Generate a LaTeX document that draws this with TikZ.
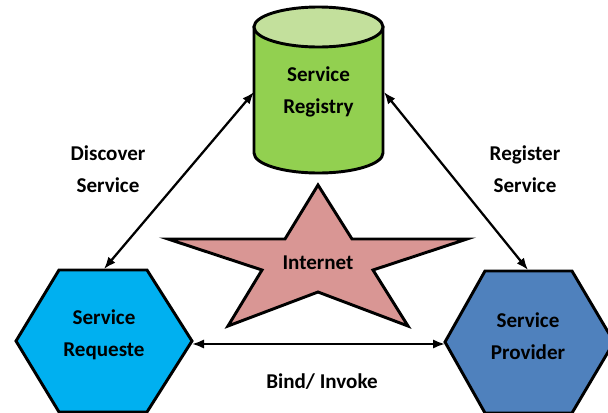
\documentclass[tikz,border=0pt]{standalone}
\usepackage{fontspec}
\setmainfont{Carlito}
\usetikzlibrary{arrows.meta}
\definecolor{regbody}{HTML}{92D050}
\definecolor{regtop}{HTML}{C3E09C}
\definecolor{netfill}{HTML}{D99694}
\definecolor{reqfill}{HTML}{00B0F0}
\definecolor{provfill}{HTML}{4F81BD}
\tikzset{
  shapeline/.style={draw=black, line width=2.2pt, line join=miter},
  lbl/.style={font=\fontsize{15.8}{24}\selectfont\bfseries, align=center, inner sep=0pt},
  link/.style={line width=1.7pt, {Latex[length=9pt,width=7pt]}-{Latex[length=9pt,width=7pt]}}
}
\begin{document}
\begin{tikzpicture}[x=0.75pt,y=-0.75pt]
\useasboundingbox (0,0) rectangle (608,412);

% registry cylinder
\path[shapeline, fill=regbody] (254,27) -- (254,153)
  arc[start angle=180, end angle=0, x radius=64.5, y radius=20]
  -- (383,27) -- cycle;
\path[shapeline, fill=regtop] (318.5,27) ellipse [x radius=64.5, y radius=20];
\node[lbl] (reg) at (318.5,92) {Service\\Registry};
\coordinate (regL) at (254,92);
\coordinate (regR) at (384,92);

% internet star
\path[shapeline, fill=netfill] (318,185) -- (352,239) -- (467,239) -- (373,270)
  -- (408,326) -- (318,292) -- (228,326) -- (262,270) -- (168,239) -- (285,239) -- cycle;
\node[lbl] (net) at (318,263) {Internet};

% requester hexagon
\path[shapeline, fill=reqfill] (59,270) -- (147,270) -- (192,341) -- (147,412)
  -- (59,412) -- (16,341) -- cycle;
\node[lbl] (req) at (104,335) {Service\\Requeste};
\coordinate (reqT) at (104,269);
\coordinate (reqR) at (192,344);

% provider hexagon
\path[shapeline, fill=provfill] (485,271) -- (572,271) -- (614,342) -- (572,413)
  -- (485,413) -- (445,342) -- cycle;
\node[lbl] (prov) at (528,336) {Service\\Provider};
\coordinate (provT) at (528,270);
\coordinate (provL) at (445,344);

% connectors
\draw[link] (regL) -- (reqT);
\draw[link] (regR) -- (provT);
\draw[link] (reqR) -- (provL);

% connector labels
\node[lbl] (disc) at (108,169) {Discover\\Service};
\node[lbl] (regi) at (525,169) {Register\\Service};
\node[lbl] (bind) at (322,382) {Bind/ Invoke};
\end{tikzpicture}
\end{document}
